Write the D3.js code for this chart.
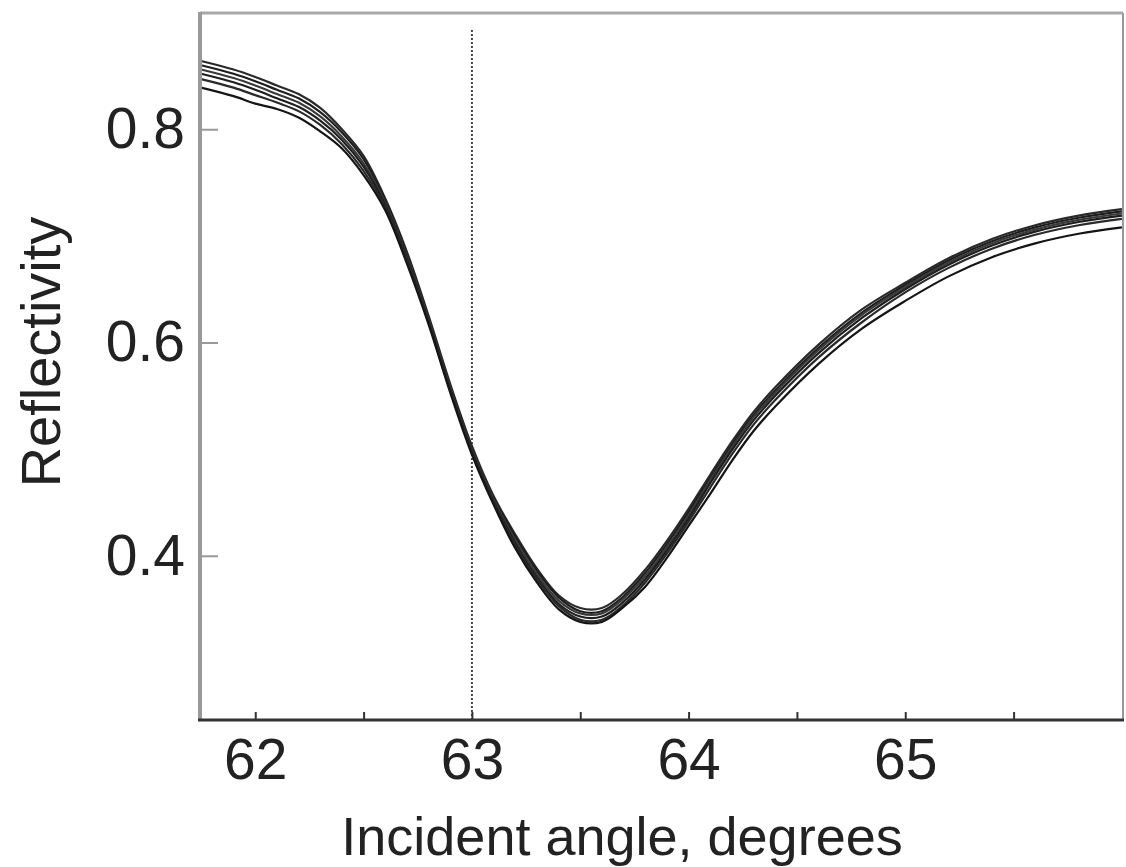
<!DOCTYPE html>
<html>
<head>
<meta charset="utf-8">
<script src="https://cdn.jsdelivr.net/npm/d3@7"></script>
<style>
  html, body { margin: 0; padding: 0; background: #fff; }
  svg { display: block; }
  text { font-family: "Liberation Sans", Arial, Helvetica, sans-serif; fill: #222; }
</style>
</head>
<body>
<svg id="chart" width="1126" height="867"></svg>
<script>
// ---- data ----
const angles = [61.75, 61.9, 62.0, 62.1, 62.2, 62.3, 62.4, 62.5, 62.6, 62.7, 62.8, 62.9, 63.0, 63.1, 63.2, 63.3, 63.4, 63.5, 63.6, 63.7, 63.8, 63.9, 64.0, 64.1, 64.2, 64.3, 64.4, 64.6, 64.8, 65.0, 65.2, 65.4, 65.6, 65.8, 66.0];
const seriesA = [0.864, 0.856, 0.849, 0.841, 0.833, 0.820, 0.800, 0.775, 0.735, 0.685, 0.625, 0.561, 0.503, 0.456, 0.420, 0.388, 0.363, 0.351, 0.351, 0.365, 0.387, 0.414, 0.444, 0.476, 0.507, 0.535, 0.558, 0.598, 0.631, 0.656, 0.679, 0.697, 0.710, 0.719, 0.725];
const seriesB = [0.860, 0.852, 0.845, 0.837, 0.829, 0.816, 0.797, 0.772, 0.733, 0.683, 0.623, 0.559, 0.501, 0.454, 0.418, 0.386, 0.361, 0.348, 0.348, 0.362, 0.384, 0.411, 0.441, 0.473, 0.504, 0.532, 0.555, 0.595, 0.628, 0.654, 0.677, 0.695, 0.708, 0.717, 0.723];
const seriesC = [0.856, 0.848, 0.841, 0.833, 0.825, 0.812, 0.793, 0.768, 0.731, 0.681, 0.622, 0.558, 0.500, 0.453, 0.415, 0.383, 0.358, 0.346, 0.346, 0.360, 0.381, 0.408, 0.438, 0.471, 0.502, 0.530, 0.553, 0.593, 0.626, 0.652, 0.675, 0.693, 0.706, 0.715, 0.721];
const seriesD = [0.852, 0.844, 0.837, 0.829, 0.821, 0.808, 0.790, 0.765, 0.729, 0.679, 0.620, 0.556, 0.498, 0.451, 0.412, 0.380, 0.355, 0.343, 0.343, 0.357, 0.378, 0.405, 0.435, 0.468, 0.499, 0.527, 0.550, 0.590, 0.623, 0.650, 0.673, 0.691, 0.704, 0.713, 0.719];
const seriesE = [0.847, 0.839, 0.832, 0.825, 0.817, 0.804, 0.786, 0.761, 0.727, 0.677, 0.619, 0.555, 0.497, 0.450, 0.410, 0.378, 0.353, 0.340, 0.340, 0.354, 0.375, 0.402, 0.432, 0.464, 0.495, 0.523, 0.546, 0.586, 0.619, 0.647, 0.670, 0.688, 0.701, 0.710, 0.716];
const seriesF = [0.839, 0.831, 0.824, 0.819, 0.811, 0.798, 0.782, 0.757, 0.724, 0.674, 0.617, 0.553, 0.495, 0.448, 0.407, 0.375, 0.350, 0.338, 0.338, 0.352, 0.371, 0.398, 0.428, 0.458, 0.489, 0.517, 0.540, 0.580, 0.613, 0.639, 0.662, 0.680, 0.693, 0.702, 0.708];
const xTicks = [62, 62.5, 63, 63.5, 64, 64.5, 65, 65.5];
const xTickLabels = ["62", "", "63", "", "64", "", "65", ""];
const yTicks = [0.4, 0.6, 0.8];
const yTickLabels = ["0.4", "0.6", "0.8"];
const markerAngle = 63;
const xTitle = "Incident angle, degrees";
const yTitle = "Reflectivity";

// ---- layout ----
const pLeft = 200, pRight = 1123, pTop = 13, pBottom = 720;
const svg = d3.select("#chart");

const x = d3.scaleLinear().domain([61.745, 66.005]).range([pLeft, pRight]);
const y = d3.scaleLinear().domain([0.246, 0.909]).range([pBottom, pTop]);

const allSeries = [seriesA, seriesB, seriesC, seriesD, seriesE, seriesF];

// clip
svg.append("clipPath").attr("id", "plotclip")
  .append("rect").attr("x", pLeft).attr("y", pTop).attr("width", pRight - pLeft).attr("height", pBottom - pTop);

// vertical dotted marker
svg.append("line")
  .attr("x1", x(markerAngle)).attr("x2", x(markerAngle))
  .attr("y1", 30).attr("y2", pBottom)
  .attr("stroke", "#444").attr("stroke-width", 2).attr("stroke-dasharray", "2,2");

// curves
const line = d3.line()
  .x((d, i) => x(angles[i]))
  .y(d => y(d))
  .curve(d3.curveCatmullRom.alpha(0.5));

svg.append("g").attr("clip-path", "url(#plotclip)")
  .selectAll("path.curve")
  .data(allSeries)
  .join("path")
  .attr("class", "curve")
  .attr("d", d => line(d))
  .attr("fill", "none")
  .attr("stroke", (d, i) => ["#2a2a2a", "#1e1e1e", "#3a3a3a", "#1e1e1e", "#2a2a2a", "#151515"][i])
  .attr("stroke-width", 2.2);

// frame: top and right (light gray)
svg.append("line").attr("x1", pLeft).attr("x2", pRight).attr("y1", pTop).attr("y2", pTop)
  .attr("stroke", "#a8a8a8").attr("stroke-width", 3);
svg.append("line").attr("x1", pRight).attr("x2", pRight).attr("y1", pTop).attr("y2", pBottom)
  .attr("stroke", "#999").attr("stroke-width", 2);

// y axis
const yAxis = d3.axisLeft(y)
  .tickValues(yTicks)
  .tickFormat((d, i) => yTickLabels[i])
  .tickSize(-18)
  .tickPadding(15);
const gy = svg.append("g").attr("transform", `translate(${pLeft},0)`).call(yAxis);
gy.select(".domain").remove();
gy.selectAll(".tick line").attr("stroke", "#999").attr("stroke-width", 2);
gy.selectAll(".tick text")
  .attr("font-size", 57)
  .attr("font-family", "'Liberation Sans', Arial, sans-serif")
  .attr("fill", "#222");
svg.append("line").attr("x1", pLeft).attr("x2", pLeft).attr("y1", pTop - 1).attr("y2", pBottom + 1)
  .attr("stroke", "#999").attr("stroke-width", 4);

// x axis
const xAxis = d3.axisBottom(x)
  .tickValues(xTicks)
  .tickFormat((d, i) => xTickLabels[i])
  .tickSize(-8)
  .tickPadding(19);
const gx = svg.append("g").attr("transform", `translate(0,${pBottom})`).call(xAxis);
gx.select(".domain").remove();
gx.selectAll(".tick line").attr("stroke", "#333").attr("stroke-width", 2);
gx.selectAll(".tick text")
  .attr("font-size", 57)
  .attr("font-family", "'Liberation Sans', Arial, sans-serif")
  .attr("fill", "#222");
svg.append("line").attr("x1", pLeft - 2).attr("x2", pRight + 1).attr("y1", pBottom).attr("y2", pBottom)
  .attr("stroke", "#333").attr("stroke-width", 3);

// titles
svg.append("text")
  .attr("x", 622).attr("y", 855)
  .attr("text-anchor", "middle")
  .attr("font-size", 54)
  .text(xTitle);

svg.append("text")
  .attr("transform", "translate(60,352) rotate(-90)")
  .attr("text-anchor", "middle")
  .attr("font-size", 56)
  .text(yTitle);
</script>
</body>
</html>
